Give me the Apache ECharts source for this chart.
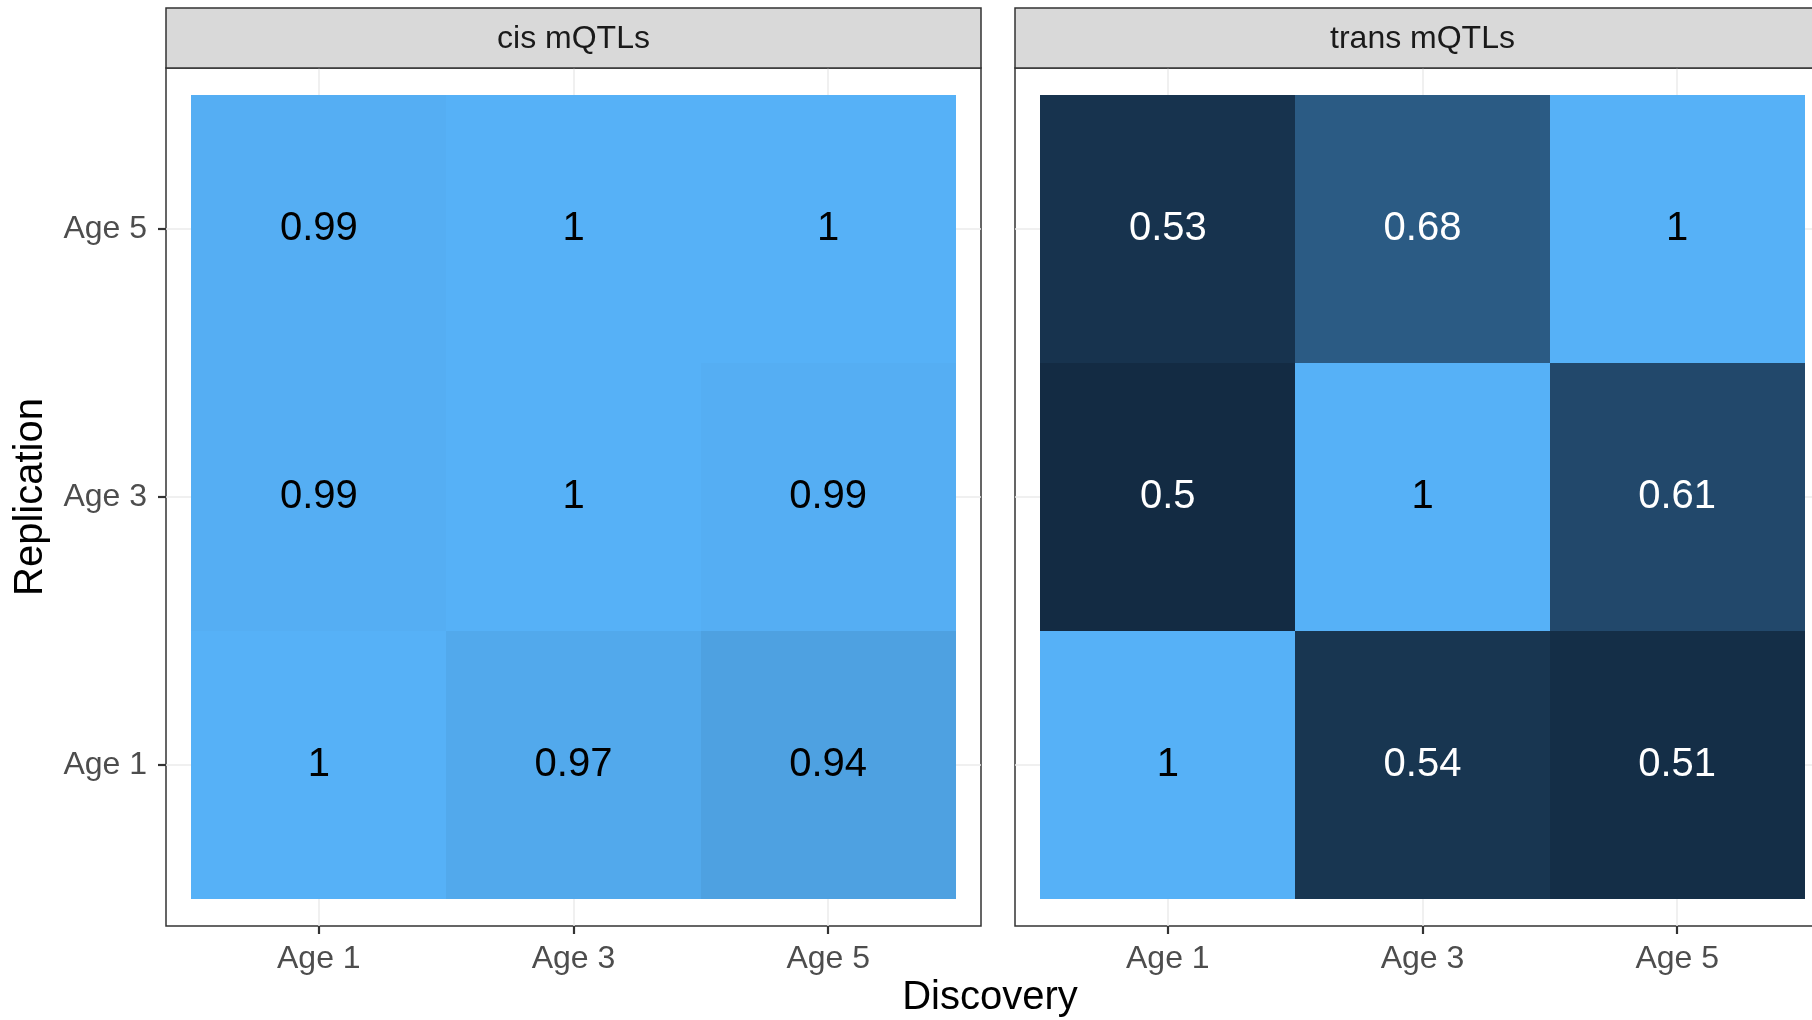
<!DOCTYPE html>
<html>
<head>
<meta charset="utf-8">
<script src="https://cdn.jsdelivr.net/npm/echarts@6/dist/echarts.min.js"></script>
<style>
  html, body { margin: 0; padding: 0; background: #fff; }
  #main { width: 1812px; height: 1020px; }
</style>
</head>
<body>
<div id="main"></div>
<script>
  // categories (discovery on x, replication on y)
  var ages = ['Age 1', 'Age 3', 'Age 5'];
  var panelNames = ['cis mQTLs', 'trans mQTLs'];
  // rows = replication Age 1, Age 3, Age 5 ; cols = discovery Age 1, Age 3, Age 5
  var cisValues = [
    [1, 0.97, 0.94],
    [0.99, 1, 0.99],
    [0.99, 1, 1]
  ];
  var transValues = [
    [1, 0.54, 0.51],
    [0.5, 1, 0.61],
    [0.53, 0.68, 1]
  ];

  var FONT = '"Liberation Sans", Arial, sans-serif';

  function toData(values) {
    var out = [];
    for (var r = 0; r < values.length; r++) {
      for (var c = 0; c < values[r].length; c++) {
        out.push([c + 1, r + 1, values[r][c]]);
      }
    }
    return out;
  }

  // tile + text, placed through the axis scales
  function renderTile(params, api) {
    var x = api.value(0), y = api.value(1), v = api.value(2);
    var p0 = api.coord([x - 0.5, y + 0.5]);
    var p1 = api.coord([x + 0.5, y - 0.5]);
    var c = api.coord([x, y]);
    var x0 = Math.round(p0[0]), y0 = Math.round(p0[1]);
    var x1 = Math.round(p1[0]), y1 = Math.round(p1[1]);
    return {
      type: 'group',
      children: [{
        type: 'rect',
        shape: { x: x0, y: y0, width: x1 - x0, height: y1 - y0 },
        style: { fill: api.visual('color') }
      }, {
        type: 'text',
        x: c[0],
        y: c[1],
        style: {
          text: String(v),
          fill: v < 0.9 ? '#fff' : '#000',
          font: '40px ' + FONT,
          align: 'center',
          verticalAlign: 'middle'
        }
      }]
    };
  }

  var panelLeft = [166, 1015];
  var panelTop = 68;
  var panelW = 815;
  var panelH = 858;

  function makeXAxis(i) {
    return {
      type: 'value',
      gridIndex: i,
      min: 0.4,
      max: 3.6,
      axisLine: { show: false },
      axisTick: {
        show: true,
        customValues: [1, 2, 3],
        length: 8,
        lineStyle: { color: '#333', width: 2.2 }
      },
      axisLabel: {
        customValues: [1, 2, 3],
        margin: 17,
        color: '#4D4D4D',
        fontSize: 32,
        fontFamily: FONT,
        formatter: function (v) { return ages[Math.round(v) - 1]; }
      },
      splitLine: { show: true, lineStyle: { color: '#EBEBEB', width: 1.5 } }
    };
  }

  function makeYAxis(i) {
    return {
      type: 'value',
      gridIndex: i,
      min: 0.4,
      max: 3.6,
      axisLine: { show: false },
      axisTick: {
        show: i === 0,
        customValues: [1, 2, 3],
        length: 8,
        lineStyle: { color: '#333', width: 2.2 }
      },
      axisLabel: {
        show: i === 0,
        customValues: [1, 2, 3],
        margin: 19,
        color: '#4D4D4D',
        fontSize: 32,
        fontFamily: FONT,
        formatter: function (v) { return ages[Math.round(v) - 1]; }
      },
      splitLine: { show: true, lineStyle: { color: '#EBEBEB', width: 1.5 } }
    };
  }

  var graphics = [];
  for (var i = 0; i < 2; i++) {
    // facet strip
    graphics.push({
      type: 'rect',
      x: panelLeft[i],
      y: 8,
      shape: { width: panelW, height: panelTop - 8 },
      style: { fill: '#D9D9D9', stroke: '#333', lineWidth: 1.5 },
      z: 10
    });
    graphics.push({
      type: 'text',
      x: panelLeft[i] + panelW / 2,
      y: 39,
      style: {
        text: panelNames[i],
        fill: '#1A1A1A',
        font: '32px ' + FONT,
        align: 'center',
        verticalAlign: 'middle'
      },
      z: 11
    });
  }
  // axis titles
  graphics.push({
    type: 'text',
    x: 990,
    y: 998,
    style: { text: 'Discovery', fill: '#000', font: '40px ' + FONT, align: 'center', verticalAlign: 'middle' }
  });
  graphics.push({
    type: 'text',
    x: 31,
    y: 497,
    rotation: Math.PI / 2,
    style: { text: 'Replication', fill: '#000', font: '40px ' + FONT, align: 'center', verticalAlign: 'middle' }
  });

  var chart = echarts.init(document.getElementById('main'));
  var option = {
    backgroundColor: '#fff',
    animation: false,
    grid: [0, 1].map(function (i) {
      return {
        left: panelLeft[i],
        top: panelTop,
        width: panelW,
        height: panelH,
        outerBoundsMode: 'none',
        containLabel: false,
        show: true,
        backgroundColor: '#fff',
        borderColor: '#333',
        borderWidth: 1.5
      };
    }),
    xAxis: [makeXAxis(0), makeXAxis(1)],
    yAxis: [makeYAxis(0), makeYAxis(1)],
    visualMap: {
      show: false,
      type: 'continuous',
      min: 0.5,
      max: 1,
      dimension: 2,
      seriesIndex: [0, 1],
      inRange: { color: ['#132B43', '#56B1F7'] }
    },
    graphic: graphics,
    series: [{
      type: 'custom',
      name: panelNames[0],
      xAxisIndex: 0,
      yAxisIndex: 0,
      renderItem: renderTile,
      encode: { x: 0, y: 1 },
      data: toData(cisValues)
    }, {
      type: 'custom',
      name: panelNames[1],
      xAxisIndex: 1,
      yAxisIndex: 1,
      renderItem: renderTile,
      encode: { x: 0, y: 1 },
      data: toData(transValues)
    }]
  };
  chart.setOption(option);
</script>
</body>
</html>
